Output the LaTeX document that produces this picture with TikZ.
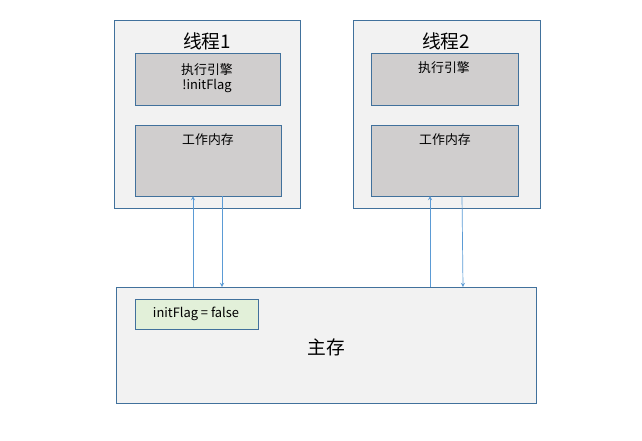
\documentclass[tikz,border=0pt]{standalone}
\usepackage{fontspec}
\setmainfont{Noto Sans CJK SC}
\definecolor{bord}{RGB}{65,113,156}
\begin{document}
\begin{tikzpicture}[x=0.03cm,y=-0.03cm,
  outer/.style={draw=bord,fill=black!5,line width=0.5pt},
  inner/.style={draw=bord,fill={rgb,255:red,208;green,206;blue,206},line width=0.5pt},
  green/.style={draw=bord,fill={rgb,255:red,226;green,240;blue,217},line width=0.5pt},
  txt/.style={font=\fontsize{11}{13}\selectfont,align=center},
  arr/.style={draw={rgb,255:red,91;green,155;blue,213},line width=0.6pt,->,>=stealth}]
\useasboundingbox (0,0) rectangle (642,440);
% thread 1
\draw[outer] (114,20) rectangle (300,208);
\node[font=\fontsize{16}{18}\selectfont] (t1) at (207,41) {线程1};
\draw[inner] (135,53) rectangle (280,105);
\node[txt] (e1) at (207,78) {执行引擎\\!initFlag};
\draw[inner] (135,125) rectangle (281,196);
\node[txt] (w1) at (208,140) {工作内存};
% thread 2
\draw[outer] (353,20) rectangle (540,208);
\node[font=\fontsize{16}{18}\selectfont] (t2) at (446,41) {线程2};
\draw[inner] (371,53) rectangle (518,105);
\node[txt] (e2) at (444,68) {执行引擎};
\draw[inner] (371,125) rectangle (518,196);
\node[txt] (w2) at (445,140) {工作内存};
% main memory
\draw[outer] (116,287) rectangle (536,403);
\draw[green] (135,299) rectangle (258,329);
\node[txt] (flag) at (196,314) {initFlag = false};
\node[font=\fontsize{16}{18}\selectfont] (mm) at (326,347) {主存};
% arrows
\coordinate (a1s) at (193,287); \coordinate (a1e) at (193,196);
\coordinate (b1s) at (222,196); \coordinate (b1e) at (222,287);
\coordinate (a2s) at (430,287); \coordinate (a2e) at (430,196);
\coordinate (b2s) at (462,196); \coordinate (b2e) at (463,287);
\draw[arr] (a1s) -- (a1e);
\draw[arr] (b1s) -- (b1e);
\draw[arr] (a2s) -- (a2e);
\draw[arr] (b2s) -- (b2e);
\end{tikzpicture}
\end{document}
